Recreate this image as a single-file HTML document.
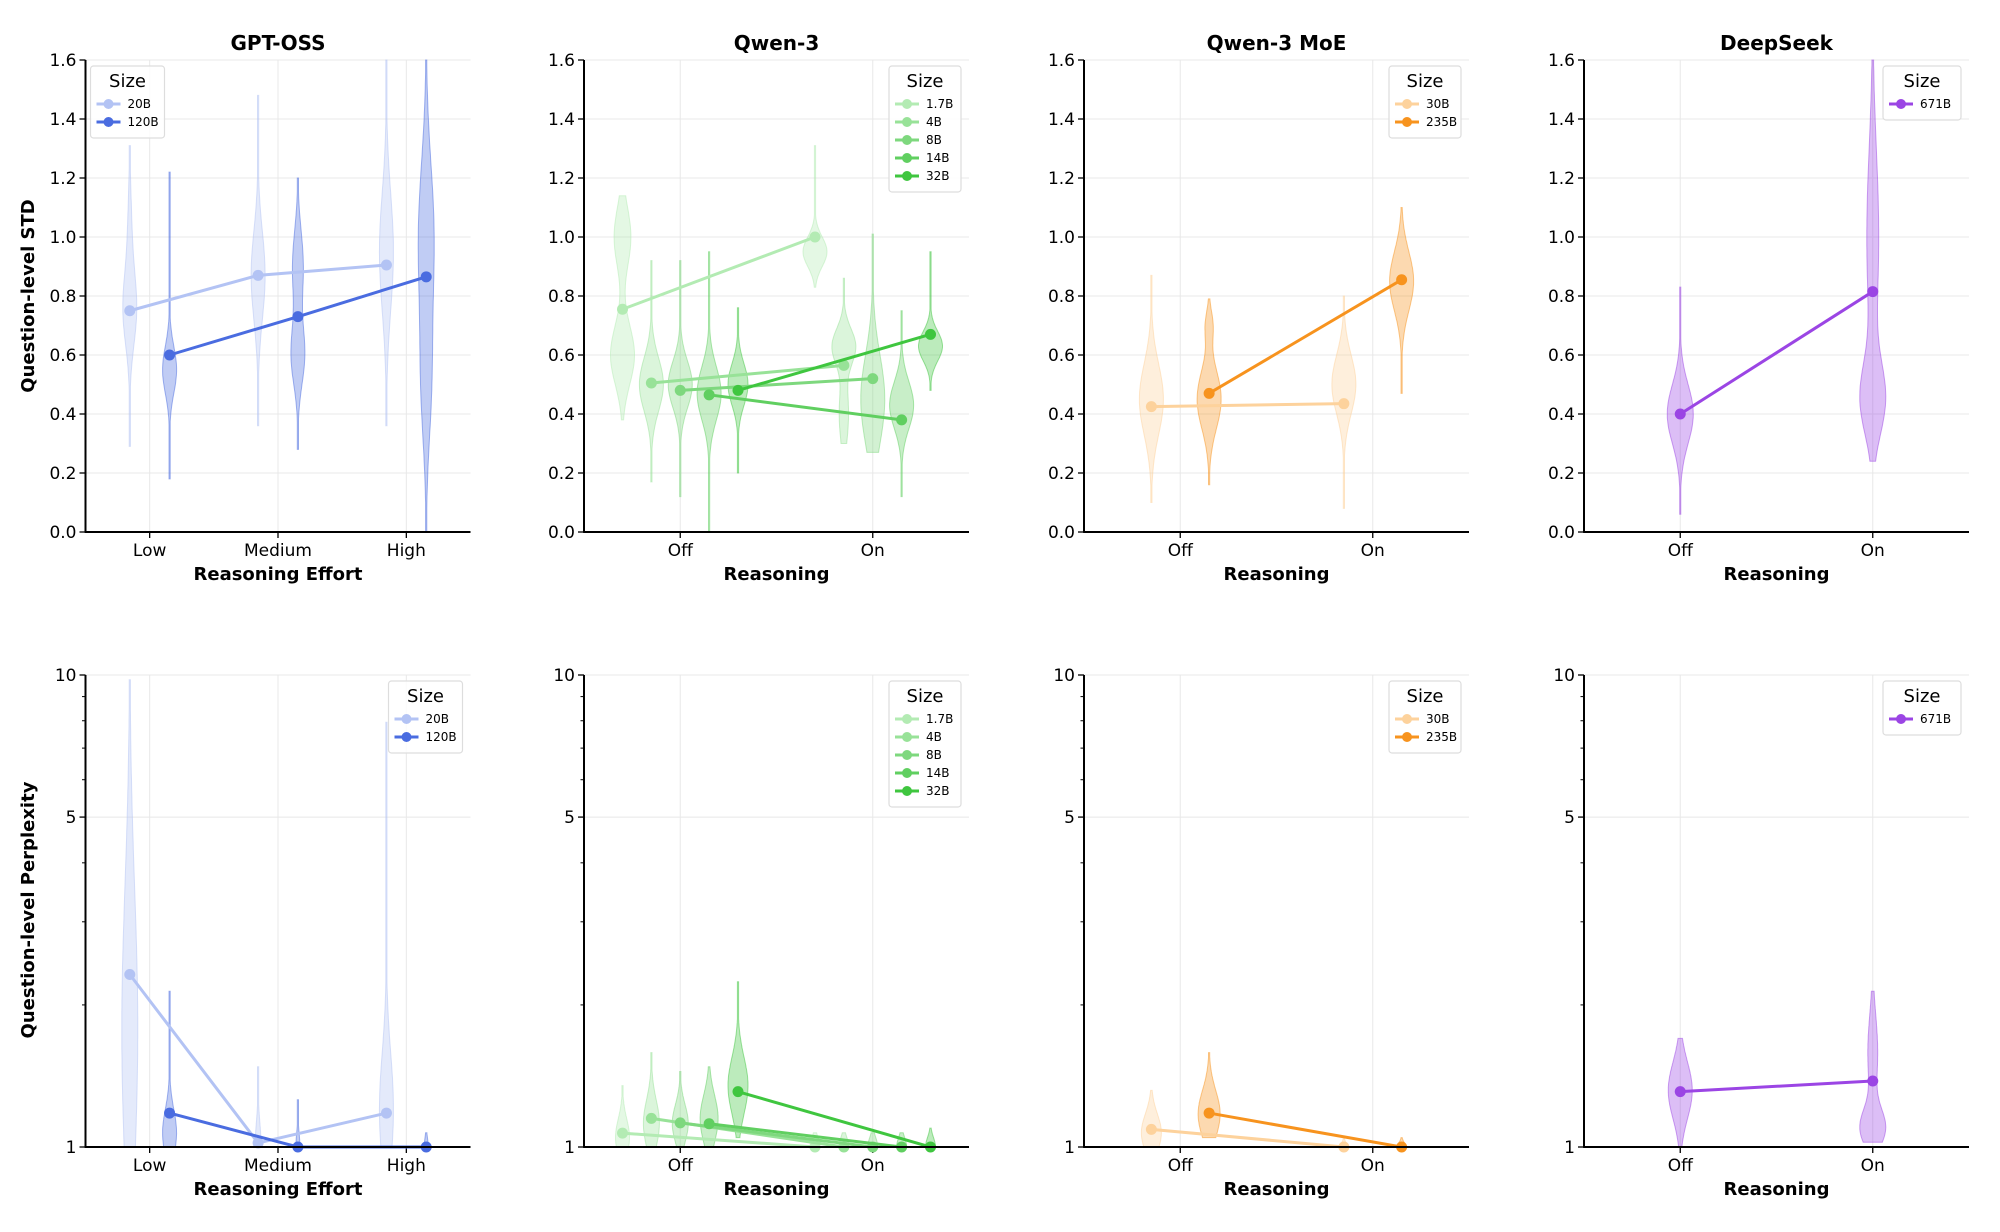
<!DOCTYPE html>
<html><head><meta charset="utf-8"><style>
html,body{margin:0;padding:0;background:#fff;width:2000px;height:1232px;overflow:hidden}
svg text{font-family:"DejaVu Sans","Liberation Sans",sans-serif}
</style></head><body>
<svg id="s" width="2000" height="1232" xmlns="http://www.w3.org/2000/svg"></svg>
<script>
const S=document.getElementById('s');let out='';
const W=385,TT=60,TB=532,BT=675,BB=1147,H=472;
const lefts=[85.5,584,1084,1584];
function ln(x1,y1,x2,y2,c,w,o){out+=`<line x1="${x1}" y1="${y1}" x2="${x2}" y2="${y2}" stroke="${c}" stroke-width="${w}" ${o||''}/>`;}
function tx(x,y,t,sz,anc,extra){out+=`<text x="${x}" y="${y}" font-size="${sz}" text-anchor="${anc||'middle'}" ${extra||''}>${t}</text>`;}
const C={b1:'#b3c3f4',b2:'#4a6ce0',g1:'#b3ebb3',g2:'#98e298',g3:'#7ed87e',g4:'#60cf60',g5:'#3fc63f',o1:'#fdd29c',o2:'#f7931e',p:'#9b45e4'};
const panels=[
 {t:'GPT-OSS',cats:['Low','Medium','High'],xl:'Reasoning Effort',hues:[['20B',C.b1,-0.155],['120B',C.b2,0.155]],
  top:{leg:'left',lines:[[0.75,0.87,0.905],[0.60,0.73,0.865]],
   v:[[[.29,1.31,[[.75,.12,1],[1.0,.15,.3]],7],[.36,1.48,[[.87,.15,1]],7],[.36,1.6,[[.95,.2,1]],7]],
      [[.18,1.22,[[.55,.08,1]],7],[.28,1.2,[[.6,.1,1],[.9,.12,.8]],7],[0,1.6,[[1.0,.25,1],[.5,.2,.6]],8]]]},
  bot:{lines:[[2.32,1.02,1.18],[1.18,1.0,1.0]],
   v:[[[0,.99,[[.25,.3,1]],8],[0,.17,[[0,.05,1]],3],[0,.9,[[.08,.12,1]],7]],
      [[0,.33,[[.03,.05,1]],7],[0,.1,[[0,.03,1]],2],[0,.03,[[0,.02,1]],2]]]}},
 {t:'Qwen-3',cats:['Off','On'],xl:'Reasoning',hues:[['1.7B',C.g1,-0.3],['4B',C.g2,-0.15],['8B',C.g3,0],['14B',C.g4,0.15],['32B',C.g5,0.3]],
  top:{leg:'right',lines:[[.755,1.0],[.505,.565],[.48,.52],[.465,.38],[.48,.67]],
   v:[[[.38,1.14,[[.6,.1,1],[1.0,.1,.7]],12],[.83,1.31,[[.95,.05,1]],12]],
      [[.17,.92,[[.5,.09,1]],12],[.3,.86,[[.63,.06,1],[.4,.1,.4]],12]],
      [[.12,.92,[[.5,.08,1]],12],[.27,1.01,[[.45,.15,1]],12]],
      [[0,.95,[[.47,.09,1]],12],[.12,.75,[[.43,.08,1]],12]],
      [[.2,.76,[[.5,.07,1]],10],[.48,.95,[[.63,.05,1]],12]]]},
  bot:{lines:[[1.07,1.0],[1.15,1.0],[1.125,1.0],[1.12,1.0],[1.31,1.0]],
   v:[[[0,.13,[[.02,.04,1]],7],[0,.03,[[0,.02,1]],5]],
      [[0,.2,[[.05,.05,1]],8],[0,.03,[[0,.02,1]],5]],
      [[0,.16,[[.05,.04,1]],8],[0,.03,[[0,.02,1]],5]],
      [[0,.17,[[.06,.05,1]],9],[0,.03,[[0,.02,1]],5]],
      [[.02,.35,[[.13,.06,1]],10],[0,.04,[[0,.02,1]],5]]]}},
 {t:'Qwen-3 MoE',cats:['Off','On'],xl:'Reasoning',hues:[['30B',C.o1,-0.15],['235B',C.o2,0.15]],
  top:{leg:'right',lines:[[.425,.435],[.47,.855]],
   v:[[[.1,.87,[[.45,.12,1]],12],[.08,.8,[[.5,.1,1]],12]],
      [[.16,.79,[[.45,.1,1],[.7,.05,.3]],12],[.47,1.1,[[.85,.1,1]],12]]]},
  bot:{lines:[[1.09,1.0],[1.18,1.0]],
   v:[[[0,.12,[[.03,.04,1]],10],[0,.02,[[0,.01,1]],3]],
      [[.02,.2,[[.07,.05,1]],11],[0,.02,[[0,.01,1]],4]]]}},
 {t:'DeepSeek',cats:['Off','On'],xl:'Reasoning',hues:[['671B',C.p,0]],
  top:{leg:'right',lines:[[.40,.815]],
   v:[[[.06,.83,[[.4,.1,1]],13],[.24,1.6,[[.45,.12,1],[1.0,.3,.5]],13]]]},
  bot:{lines:[[1.31,1.38]],
   v:[[[0,.23,[[.12,.06,1]],12],[.01,.33,[[.04,.04,1],[.2,.08,.4]],13]]]}}
];
function legend(p,side,top){
  const n=p.hues.length;const w=p.hues.length>2||p.t=='Qwen-3 MoE'?72:(p.t=='DeepSeek'?78:74);
  const h=36+n*18;const L=lefts[panels.indexOf(p)];
  const x=side=='left'?L+5:L+W-w-8;const y=top+6;
  out+=`<rect x="${x}" y="${y}" width="${w}" height="${h}" rx="3" fill="#fff" fill-opacity="0.85" stroke="#ddd" stroke-width="1.2"/>`;
  tx(x+w/2,y+21,'Size',18);
  p.hues.forEach((hh,i)=>{const yy=y+38+i*18;ln(x+6,yy,x+30,yy,hh[1],3);out+=`<circle cx="${x+18}" cy="${yy}" r="5" fill="${hh[1]}"/>`;tx(x+37,yy+4,hh[0],12,'start');});
}
panels.forEach((p,pi)=>{
  const L=lefts[pi];const nc=p.cats.length;
  const px=x=>L+(x+0.5)/nc*W;
  ['top','bot'].forEach(row=>{
    const T=row=='top'?TT:BT,B=row=='top'?TB:BB;
    const py=row=='top'?(v=>T+(1.6-v)/1.6*H):(v=>T+(1-Math.log10(v))*H);
    const pyl=row=='top'?py:(lv=>T+(1-lv)*H);
    if(row=='top'){for(let i=0;i<=8;i++){const v=i*0.2;const y=py(v);ln(L,y,L+W,y,'#e8e8e8',1);ln(L-6,y,L,y,'#000',1.3);tx(L-9,y+6,v.toFixed(1),17,'end');}}
    else{[1,5,10].forEach(v=>{const y=py(v);ln(L,y,L+W,y,'#e8e8e8',1);ln(L-6,y,L,y,'#000',1.3);tx(L-9,y+6,v,17,'end');});
      [2,3,4,6,7,8,9].forEach(v=>{const y=py(v);ln(L-3.5,y,L,y,'#000',1);});}
    p.cats.forEach((c,i)=>{ln(px(i),T,px(i),B,'#e8e8e8',1);ln(px(i),B,px(i),B+6,'#000',1.3);tx(px(i),B+24,c,17);});
    const d=p[row];
    p.hues.forEach((hh,hi)=>{d.v[hi].forEach((vv,ci)=>{
      const [lo,hi2,b,mw]=vv;const cx=px(ci+hh[2]);
      const f=t=>b.reduce((s,q)=>s+q[2]*Math.exp(-0.5*((t-q[0])/q[1])**2),0);
      let mx=0;const N=80,pts=[];for(let k=0;k<=N;k++){const t=lo+(hi2-lo)*k/N;const fv=f(t);mx=Math.max(mx,fv);pts.push([t,fv]);}
      const Ls=[],Rs=[];pts.forEach(([t,fv])=>{const w=Math.max(0.6,fv/mx*mw);const y=row=='top'?py(t):pyl(t);Ls.push(`${(cx-w).toFixed(1)},${y.toFixed(1)}`);Rs.unshift(`${(cx+w).toFixed(1)},${y.toFixed(1)}`);});
      out+=`<polygon points="${Ls.concat(Rs).join(' ')}" fill="${hh[1]}" fill-opacity="0.35" stroke="${hh[1]}" stroke-opacity="0.5" stroke-width="1"/>`;
    });});
    p.hues.forEach((hh,hi)=>{const vals=d.lines[hi];const P=vals.map((v,ci)=>[px(ci+hh[2]),py(v)]);
      out+=`<polyline points="${P.map(q=>q.join(',')).join(' ')}" fill="none" stroke="${hh[1]}" stroke-width="3"/>`;
      P.forEach(q=>out+=`<circle cx="${q[0]}" cy="${q[1]}" r="5.5" fill="${hh[1]}"/>`);});
    ln(L,T,L,B+0.7,'#000',2);ln(L-0.7,B,L+W,B,'#000',2);
    tx(L+W/2,B+48,p.xl,18,'middle','font-weight="bold"');
    legend(p,row=='top'?d.leg:'right',T);
  });
  tx(L+W/2,50,p.t,20,'middle','font-weight="bold"');
});
out+=`<text x="0" y="0" font-size="18" font-weight="bold" text-anchor="middle" transform="translate(34,296) rotate(-90)">Question-level STD</text>`;
out+=`<text x="0" y="0" font-size="18" font-weight="bold" text-anchor="middle" transform="translate(34,910) rotate(-90)">Question-level Perplexity</text>`;
S.innerHTML=out;
</script>
</body></html>
